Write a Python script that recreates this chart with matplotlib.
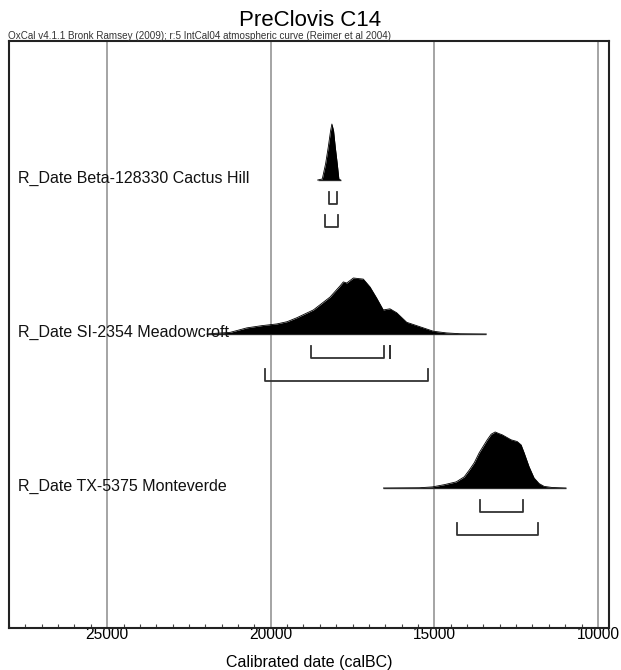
import matplotlib
matplotlib.use("Agg")
import matplotlib.pyplot as plt
from matplotlib.ticker import MultipleLocator

plt.rcParams['font.family'] = ['Liberation Sans', 'DejaVu Sans']

# ── DATA ──────────────────────────────────────────────────────────────────
labels = [
    "R_Date Beta-128330 Cactus Hill",
    "R_Date SI-2354 Meadowcroft",
    "R_Date TX-5375 Monteverde",
]

# probability curves (calBC, relative height)
cactus_dates = [18567, 18424, 18323, 18241, 18170, 18130, 18079, 18027, 17966, 17917, 17866]
cactus_prob = [0, 0.02, 0.29, 0.59, 0.88, 1.0, 0.88, 0.59, 0.29, 0.02, 0]

meadow_dates = [21950, 21760, 21240, 20730, 20270, 19816, 19500, 19205, 18697, 18187,
                17880, 17780, 17677, 17475, 17170, 16965, 16760, 16560, 16355, 16150,
                15845, 15438, 15030, 14622, 14200, 13410]
meadow_prob = [0, 0.01, 0.03, 0.11, 0.15, 0.18, 0.22, 0.29, 0.43, 0.66,
               0.86, 0.93, 0.91, 1.0, 0.98, 0.84, 0.64, 0.43, 0.45, 0.38,
               0.21, 0.13, 0.05, 0.02, 0.005, 0]

monte_dates = [16554, 15456, 15060, 14694, 14329, 14085, 13932, 13780, 13627, 13383,
               13262, 13140, 13018, 12926, 12774, 12652, 12469, 12347, 12255, 12103,
               11951, 11798, 11646, 11402, 10975]
monte_prob = [0, 0.005, 0.02, 0.06, 0.11, 0.2, 0.32, 0.45, 0.63, 0.86,
              0.96, 1.0, 0.97, 0.95, 0.9, 0.86, 0.83, 0.77, 0.63, 0.38,
              0.18, 0.08, 0.03, 0.01, 0]

curves = [(cactus_dates, cactus_prob), (meadow_dates, meadow_prob), (monte_dates, monte_prob)]

# 68.2% and 95.4% ranges
range_68 = [[(18218, 17973)], [(18768, 16538), (16356, 16350)], [(13605, 12291)]]
range_95 = [[(18340, 17942)], [(20173, 15193)], [(14307, 11833)]]

ticks = [25000, 20000, 15000, 10000]

# ── FIGURE ────────────────────────────────────────────────────────────────
fig = plt.figure(figsize=(6.21, 6.70), dpi=100)
ax = fig.add_axes([9 / 621, 1 - 628 / 670, 600 / 621, 587 / 670])

H = 0.364  # peak height in row units
for row, (d, p) in enumerate(curves):
    top = [row - v * H for v in p]
    ax.fill_between(d, top, row, color="black", lw=0, zorder=3)
    ax.plot(d, top, color="black", lw=0.6, zorder=3)
    ax.hlines(row, min(d), max(d), color="#555555", lw=1, zorder=2)
    ax.text(27720, row - 0.013, labels[row], va="center", ha="left",
            fontsize=11.5, color="#111111", zorder=5)
    for a, b in range_68[row]:
        ax.plot([a, a, b, b], [row + 0.078, row + 0.156, row + 0.156, row + 0.078],
                color="#333333", lw=1.3, zorder=3)
    for a, b in range_95[row]:
        ax.plot([a, a, b, b], [row + 0.227, row + 0.305, row + 0.305, row + 0.227],
                color="#333333", lw=1.3, zorder=3)

ax.set_xlim(28000, 9660)
ax.set_ylim(2.909, -0.903)
ax.set_yticks([])
ax.set_xticks(ticks)
ax.set_xticklabels([str(t) for t in ticks], fontsize=11.2)
ax.xaxis.set_minor_locator(MultipleLocator(500))
ax.tick_params(axis="x", which="major", length=0, pad=-1)
ax.tick_params(axis="x", which="minor", direction="in", length=3, width=0.8, color="#444444")
ax.grid(axis="x", which="major", color="#8c8c8c", lw=1.1, zorder=0)
ax.set_axisbelow(True)
for s in ax.spines.values():
    s.set_linewidth(1.5)
    s.set_color("#222222")

fig.text(310 / 621, 1 - 20 / 670, "PreClovis C14", ha="center", va="center", fontsize=16)
fig.text(8 / 621, 1 - 36 / 670,
         "OxCal v4.1.1 Bronk Ramsey (2009); r:5 IntCal04 atmospheric curve (Reimer et al 2004)",
         ha="left", va="center", fontsize=7.1, color="#333333")
fig.text(309 / 621, 1 - 662 / 670, "Calibrated date (calBC)", ha="center", va="center", fontsize=11.5)

fig.savefig("out.png", dpi=100)
